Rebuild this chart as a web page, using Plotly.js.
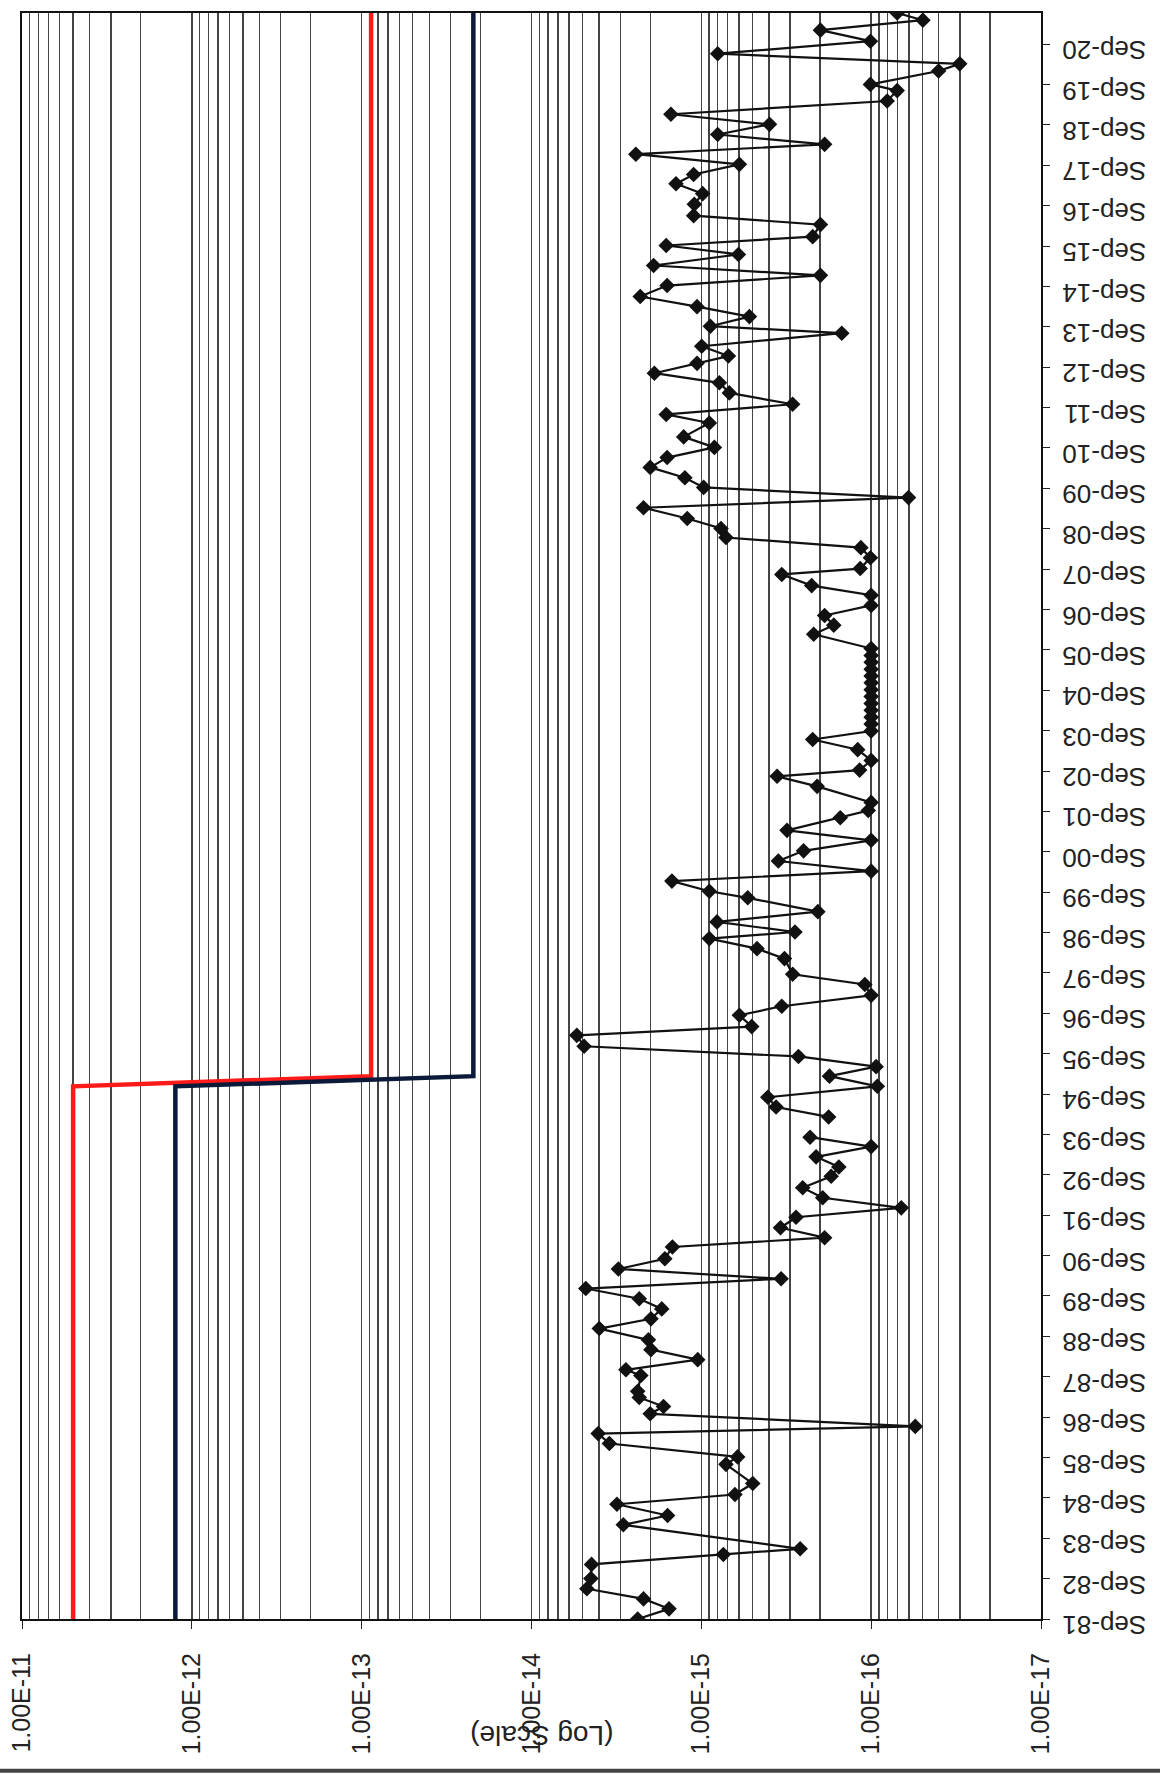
<!DOCTYPE html>
<html>
<head>
<meta charset="utf-8">
<script src="https://cdn.plot.ly/plotly-3.0.1.min.js"></script>
<style>
html,body{margin:0;padding:0;background:#fff;}
#chart{width:1160px;height:1775px;}
</style>
</head>
<body>
<div id="chart"></div>
<script>
// Sample dates (vertical axis) and measured values (log horizontal axis)
const sampleDates = [
'1981-09-15','1981-12-16','1982-03-16','1982-06-16','1982-09-16','1983-01-22','1983-04-22','1983-06-12','1984-01-15','1984-04-08',
'1984-07-19','1984-10-15','1985-01-22','1985-07-15','1985-09-20','1986-01-19','1986-04-19','1986-06-23','1986-10-15','1986-12-20',
'1987-03-12','1987-05-06','1987-09-27','1987-11-17','1988-02-17','1988-05-17','1988-08-14','1988-11-24','1989-02-20','1989-05-21',
'1989-08-21','1989-11-21','1990-02-17','1990-05-17','1990-08-17','1990-12-02','1991-02-24','1991-05-25','1991-08-28','1991-11-21',
'1992-02-20','1992-05-21','1992-09-02','1992-11-24','1993-02-24','1993-05-28','1993-08-21','1993-11-20','1994-02-20','1994-05-21',
'1994-08-17','1994-11-24','1995-02-24','1995-05-21','1995-08-21','1995-11-21','1996-02-28','1996-05-17','1996-08-28','1996-11-17',
'1997-02-24','1997-06-02','1997-09-02','1998-01-22','1998-04-22','1998-07-22','1998-09-20','1998-12-20','1999-03-23','1999-07-26',
'1999-09-23','1999-12-24','2000-03-23','2000-06-23','2000-09-23','2000-12-27','2001-03-27','2001-07-19','2001-09-23','2001-12-05',
'2002-04-29','2002-07-29','2002-09-23','2002-12-20','2003-03-27','2003-06-27',
'2003-09-12','2003-11-13','2004-01-15','2004-03-17','2004-05-18','2004-07-19','2004-09-20','2004-11-21','2005-01-22','2005-03-24','2005-05-25','2005-07-26','2005-09-27',
'2006-02-03','2006-04-26','2006-07-22','2006-10-22',
'2007-01-22','2007-04-19','2007-07-29','2007-09-20','2007-12-27','2008-03-27','2008-06-27','2008-09-16','2008-12-16','2009-03-23',
'2009-06-23','2009-09-23','2009-12-20','2010-03-23','2010-06-20','2010-09-20','2010-12-24','2011-04-29','2011-07-15','2011-10-15',
'2012-01-26','2012-04-26','2012-07-22','2012-10-19','2012-12-24','2013-03-23','2013-07-19','2013-09-20','2013-12-16','2014-03-16',
'2014-06-16','2014-09-23','2014-12-24','2015-03-23','2015-07-01','2015-09-20','2015-12-09','2016-03-27','2016-06-16','2016-09-27',
'2017-01-01','2017-04-01','2017-06-23','2017-09-23','2017-12-24','2018-03-23','2018-06-20','2018-09-20','2018-12-20',
'2019-04-19','2019-07-22','2019-09-16','2020-01-15','2020-03-20','2020-06-20','2020-10-11','2021-01-19','2021-04-19','2021-06-23'
];
const sampleValues = [
2.37e-15,1.55e-15,2.19e-15,4.72e-15,4.47e-15,4.43e-15,7.42e-16,2.62e-16,2.88e-15,1.58e-15,
3.14e-15,6.34e-16,4.98e-16,7.16e-16,6.11e-16,3.48e-15,4.05e-15,5.5e-17,2.0e-15,1.67e-15,
2.32e-15,2.37e-15,2.27e-15,2.78e-15,1.05e-15,1.98e-15,2.05e-15,3.99e-15,1.98e-15,1.71e-15,
2.32e-15,4.79e-15,3.39e-16,3.08e-15,1.64e-15,1.48e-15,1.88e-16,3.42e-16,2.77e-16,6.65e-17,
1.93e-16,2.53e-16,1.72e-16,1.55e-16,2.11e-16,1.0e-16,2.29e-16,null,1.78e-16,3.63e-16,
4.06e-16,9.2e-17,1.76e-16,9.35e-17,2.68e-16,4.9e-15,5.41e-15,5.05e-16,5.97e-16,3.36e-16,
1.0e-16,1.09e-16,2.9e-16,3.24e-16,4.7e-16,8.97e-16,2.81e-16,8.09e-16,2.06e-16,5.33e-16,
8.97e-16,1.49e-15,1.0e-16,3.52e-16,2.5e-16,1.0e-16,3.13e-16,1.52e-16,1.04e-16,1.0e-16,
2.08e-16,3.58e-16,1.17e-16,1.0e-16,1.2e-16,2.21e-16,
1.0e-16,1.0e-16,1.0e-16,1.0e-16,1.0e-16,1.0e-16,1.0e-16,1.0e-16,1.0e-16,1.0e-16,1.0e-16,1.0e-16,1.0e-16,
2.18e-16,1.66e-16,1.88e-16,1.0e-16,
1.0e-16,2.24e-16,3.36e-16,1.16e-16,1.01e-16,1.15e-16,7.16e-16,7.66e-16,1.21e-15,2.19e-15,
6.03e-17,9.69e-16,1.25e-15,2.0e-15,1.59e-15,8.38e-16,1.27e-15,8.97e-16,1.61e-15,2.9e-16,
6.84e-16,7.83e-16,1.89e-15,1.06e-15,6.93e-16,9.95e-16,1.49e-16,8.85e-16,5.21e-16,1.06e-15,
2.29e-15,1.59e-15,1.99e-16,1.91e-15,6.05e-16,1.61e-15,2.21e-16,1.99e-16,1.11e-15,1.1e-15,
9.82e-16,1.41e-15,1.11e-15,5.97e-16,2.43e-15,1.88e-16,8.01e-16,3.97e-16,1.51e-15,
8.05e-17,7.03e-17,1.01e-16,4.01e-17,3.01e-17,8.01e-16,1.01e-16,1.99e-16,4.96e-17,7.03e-17
];

// Limit lines (step change around the end of 1994)
const limitDates = ['1981-09-15','1994-11-24','1995-02-24','2021-06-23'];
const redLimit = [5.0e-12, 5.0e-12, 8.8e-14, 8.8e-14];
const navyLimit = [1.25e-12, 1.25e-12, 2.2e-14, 2.2e-14];

// Axis ticks
const logTickVals = [1e-11,1e-12,1e-13,1e-14,1e-15,1e-16,1e-17];
const logTickText = ['1.00E-11','1.00E-12','1.00E-13','1.00E-14','1.00E-15','1.00E-16','1.00E-17'];
const axisTitle = '(Log Scale)';

const minorVals = [];
for (let e = -17; e <= -12; e++) {
  for (let d = 2; d <= 9; d++) minorVals.push(d * Math.pow(10, e));
}

const font = 'Liberation Sans, Arial, Helvetica, sans-serif';

const traces = [
  {x: redLimit, y: limitDates, type: 'scatter', mode: 'lines',
   line: {color: '#ff1a1a', width: 4.5}, hoverinfo: 'skip', showlegend: false},
  {x: navyLimit, y: limitDates, type: 'scatter', mode: 'lines',
   line: {color: '#0c1a3a', width: 4.5}, hoverinfo: 'skip', showlegend: false},
  {x: sampleValues, y: sampleDates, type: 'scatter', mode: 'lines+markers',
   line: {color: '#111', width: 2.2}, marker: {symbol: 'diamond', size: 12, color: '#111'},
   connectgaps: false, showlegend: false}
];

const layout = {
  width: 1160, height: 1775,
  margin: {l: 22, r: 119, t: 13, b: 156},
  paper_bgcolor: '#fff', plot_bgcolor: '#fff',
  showlegend: false,
  font: {family: font, color: '#222', size: 24},
  xaxis: {
    type: 'log', range: [-11, -17],
    tickmode: 'array', tickvals: logTickVals, ticktext: logTickText,
    tickangle: -90, ticks: 'outside', ticklen: 8, tickcolor: '#222',
    ticklabelstandoff: 14,
    tickfont: {family: font, size: 25, color: '#222'},
    showgrid: true, gridcolor: '#444', gridwidth: 1.4,
    minor: {tickmode: 'array', tickvals: minorVals, showgrid: true, gridcolor: '#444', gridwidth: 1.4, ticks: ''},
    showline: true, linecolor: '#111', linewidth: 2, mirror: true,
    zeroline: false
  },
  yaxis: {
    type: 'date', side: 'right',
    range: ['1981-09-15', '2021-06-23'],
    tick0: '1981-09-15', dtick: 'M12', tickformat: '%b-%y',
    tickangle: 180, ticks: 'outside', ticklen: 7, tickcolor: '#222',
    ticklabelstandoff: 91, ticklabelshift: 14,
    tickfont: {family: font, size: 26, color: '#222'},
    showgrid: false,
    showline: true, linecolor: '#111', linewidth: 2, mirror: true,
    zeroline: false
  },
  annotations: [
    {text: axisTitle, xref: 'paper', yref: 'paper', x: 0.51, y: -0.0725,
     xanchor: 'center', yanchor: 'middle',
     showarrow: false, textangle: 180, font: {family: font, size: 28, color: '#222'}}
  ],
  shapes: [
    {type: 'line', xref: 'paper', yref: 'paper', x0: -0.03, x1: 1.12, y0: -0.0945, y1: -0.0945,
     line: {color: '#444', width: 4}}
  ]
};

Plotly.newPlot('chart', traces, layout, {displayModeBar: false, staticPlot: true});
</script>
</body>
</html>
